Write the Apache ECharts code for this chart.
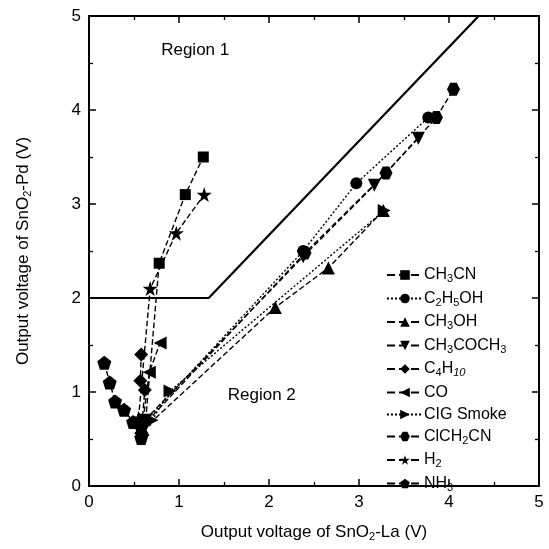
<!DOCTYPE html>
<html><head><meta charset="utf-8">
<script src="https://cdn.jsdelivr.net/npm/echarts@6/dist/echarts.min.js"></script>
<style>html,body{margin:0;padding:0;background:#fff}#c{width:549px;height:549px}</style>
</head><body><div id="c"></div>
<script>
// ---- data (x: SnO2-La output V, y: SnO2-Pd output V) ----
const seriesNames = ['CH3CN','C2H5OH','CH3OH','CH3COCH3','C4H10','CO','CIG Smoke','ClCH2CN','H2','NH3'];
const CH3CN    = [[0.63,0.70],[0.78,2.37],[1.07,3.10],[1.27,3.50]];
const C2H5OH   = [[0.60,0.66],[2.38,2.50],[2.97,3.22],[3.77,3.92]];
const CH3OH    = [[0.60,0.60],[2.07,1.90],[2.66,2.32],[3.27,2.93]];
const CH3COCH3 = [[0.62,0.70],[2.38,2.44],[3.17,3.20],[3.66,3.70]];
const C4H10    = [[0.58,0.56],[0.62,1.02],[0.57,1.12],[0.58,1.40]];
const CO       = [[0.60,0.70],[0.67,1.21],[0.79,1.52]];
const CIG      = [[0.70,0.70],[0.90,1.01],[3.28,2.93]];
const ClCH2CN  = [[0.58,0.62],[2.40,2.48],[3.30,3.33],[3.86,3.92],[4.05,4.22]];
const H2       = [[0.55,0.72],[0.68,2.10],[0.97,2.69],[1.28,3.10]];
const NH3      = [[0.17,1.31],[0.23,1.10],[0.29,0.90],[0.39,0.81],[0.49,0.68],[0.58,0.51]];
const boundary = [[0,2],[1.33,2],[4.33,5]];
const regionLabels = [{name:'Region 1', value:[1.18,4.64]},{name:'Region 2', value:[1.92,0.97]}];
const xTicks = [0,1,2,3,4,5];
const yTicks = [0,1,2,3,4,5];

const dataMap = {'CH3CN':CH3CN,'C2H5OH':C2H5OH,'CH3OH':CH3OH,'CH3COCH3':CH3COCH3,'C4H10':C4H10,'CO':CO,'CIG Smoke':CIG,'ClCH2CN':ClCH2CN,'H2':H2,'NH3':NH3};

const SYM = {
  square:'rect', circle:'circle', triangle:'triangle', diamond:'diamond',
  down:'path://M0,0 L10,0 L5,9 Z',
  left:'path://M0,5 L9,0 L9,10 Z',
  right:'path://M0,0 L9,5 L0,10 Z',
  hex:'path://M2.5,0 L7.5,0 L10,4.33 L7.5,8.66 L2.5,8.66 L0,4.33 Z',
  star:'path://M5,0 L6.2,3.6 L10,3.6 L6.9,5.9 L8.1,9.5 L5,7.3 L1.9,9.5 L3.1,5.9 L0,3.6 L3.8,3.6 Z',
  pent:'path://M5,0 L10,3.6 L8.1,9.5 L1.9,9.5 L0,3.6 Z'
};
const styleMap = {
  'CH3CN':[SYM.square,11,'dashed'],
  'C2H5OH':[SYM.circle,12,[2,2]],
  'CH3OH':[SYM.triangle,13,'dashed'],
  'CH3COCH3':[SYM.down,13,'dashed'],
  'C4H10':[SYM.diamond,14,'dashed'],
  'CO':[SYM.left,13,'dashed'],
  'CIG Smoke':[SYM.right,13,[2,2]],
  'ClCH2CN':[SYM.hex,13,'dashed'],
  'H2':[SYM.star,15,'dashed'],
  'NH3':[SYM.pent,14,'dashed']
};
const legendRich = {
  'CH3CN':'CH{s|3}CN','C2H5OH':'C{s|2}H{s|5}OH','CH3OH':'CH{s|3}OH','CH3COCH3':'CH{s|3}COCH{s|3}',
  'C4H10':'C{s|4}H{si|10}','CO':'CO','CIG Smoke':'CIG Smoke','ClCH2CN':'ClCH{s|2}CN','H2':'H{s|2}','NH3':'NH{s|3}'
};
const FONT = 'Liberation Sans, Arial, sans-serif';

const series = seriesNames.map(n => ({
  name:n, type:'line', data:dataMap[n], symbol:styleMap[n][0], symbolSize:styleMap[n][1],
  itemStyle:{color:'#000'}, lineStyle:{color:'#000', width:1.4, type:styleMap[n][2]},
  emphasis:{disabled:true}, animation:false, z:3
}));
series.push({type:'line', data:boundary, symbol:'none', lineStyle:{color:'#000', width:2.2}, animation:false, z:2, silent:true});

const chart = echarts.init(document.getElementById('c'), null, {renderer:'canvas'});
const axisCommon = {
  min:0, max:5, interval:1,
  axisLine:{onZero:false, lineStyle:{color:'#000', width:2}},
  axisTick:{inside:true, length:7, lineStyle:{color:'#000', width:1.5}},
  minorTick:{show:true, splitNumber:2, length:4, lineStyle:{color:'#000', width:1.3}},
  splitLine:{show:false}
};
const nameRich = {s:{fontSize:11, verticalAlign:'bottom', padding:[9,0,0,0]}};
chart.setOption({
  backgroundColor:'#fff',
  animation:false,
  grid:{left:89, right:10, top:16, bottom:63},
  xAxis:[
    Object.assign({}, axisCommon, {type:'value', position:'bottom',
      axisLabel:{color:'#000', fontSize:17, fontFamily:FONT, margin:8, formatter:v=>xTicks.includes(v)?String(v):''},
      name:'Output voltage of SnO{s|2}-La (V)', nameLocation:'middle', nameGap:36,
      nameTextStyle:{color:'#000', fontSize:17, fontFamily:FONT, rich:nameRich}}),
    Object.assign({}, axisCommon, {type:'value', position:'top', axisLabel:{show:false}})
  ],
  yAxis:[
    Object.assign({}, axisCommon, {type:'value', position:'left',
      axisLabel:{color:'#000', fontSize:17, fontFamily:FONT, margin:8, formatter:v=>yTicks.includes(v)?String(v):''},
      name:'Output voltage of SnO{s|2}-Pd (V)', nameLocation:'middle', nameGap:56,
      nameTextStyle:{color:'#000', fontSize:17, fontFamily:FONT, rich:nameRich}}),
    Object.assign({}, axisCommon, {type:'value', position:'right', axisLabel:{show:false}})
  ],
  legend:{
    orient:'vertical', left:381, top:262, itemWidth:36, itemHeight:12, itemGap:6,
    data:seriesNames, selectedMode:false,
    formatter:n=>legendRich[n],
    textStyle:{color:'#000', fontSize:16, fontFamily:FONT, padding:[0,0,0,-4],
      rich:{s:{fontSize:11, verticalAlign:'bottom', padding:[8,0,0,0]}, si:{fontSize:11, fontStyle:'italic', verticalAlign:'bottom', padding:[8,0,0,0]}}}
  },
  series:series
});
// region annotations placed at data coordinates through the axes
chart.setOption({
  graphic: regionLabels.map(r => {
    const p = chart.convertToPixel({xAxisIndex:0, yAxisIndex:0}, r.value);
    return {type:'text', x:p[0], y:p[1], silent:true, z:10,
      style:{text:r.name, fill:'#000', font:'17px ' + FONT, textAlign:'center', textVerticalAlign:'middle'}};
  })
});
</script></body></html>
